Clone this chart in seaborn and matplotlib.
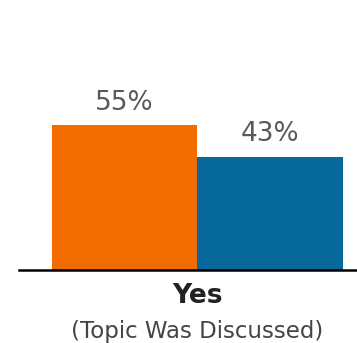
import matplotlib
matplotlib.use("Agg")
import matplotlib.pyplot as plt
import matplotlib.transforms as mtransforms
import seaborn as sns
import pandas as pd

# Share of respondents for whom the topic was discussed
categories = ["Yes"]
groups = ["Group A", "Group B"]
values = [55, 43]
value_labels = ["55%", "43%"]
subtitle = "(Topic Was Discussed)"
colors = ["#F26C00", "#07699B"]

df = pd.DataFrame({
    "answer": categories * len(groups),
    "group": groups,
    "pct": values,
})

sns.set_style("white")
plt.rcParams["font.family"] = ["DejaVu Sans"]

W, H = 357, 343
fig = plt.figure(figsize=(W / 100, H / 100), dpi=100)
ax = fig.add_axes([19 / W, 73 / H, 1 - 19 / W, 1 - 73 / H])

sns.barplot(data=df, x="answer", y="pct", hue="group", palette=colors,
            width=0.8, saturation=1, ax=ax, legend=False, linewidth=0)

ax.set_xlim(-0.4907, 0.4385)
ax.set_ylim(0, 102.4)

for spine in ["top", "right", "left"]:
    ax.spines[spine].set_visible(False)
ax.spines["bottom"].set_color("black")
ax.spines["bottom"].set_linewidth(1.8)
ax.set_xticks([])
ax.set_yticks([])
ax.set_xlabel("")
ax.set_ylabel("")

# Value labels above each bar
for bar, lab in zip(ax.patches, value_labels):
    cx = bar.get_x() + bar.get_width() / 2
    ax.annotate(lab, (cx, bar.get_height()), xytext=(0, 11),
                textcoords="offset points", ha="center", va="baseline",
                fontsize=19, color="#595959")

# Category label and description under the baseline
trans = mtransforms.blended_transform_factory(ax.transData, ax.transAxes)
ax.text(0, -33 / 270, categories[0], transform=trans, ha="center",
        va="baseline", fontsize=19, fontweight="bold", color="#222222")
ax.text(0, -68 / 270, subtitle, transform=trans, ha="center",
        va="baseline", fontsize=16.5, color="#444444")

fig.savefig("out.png", dpi=100)
